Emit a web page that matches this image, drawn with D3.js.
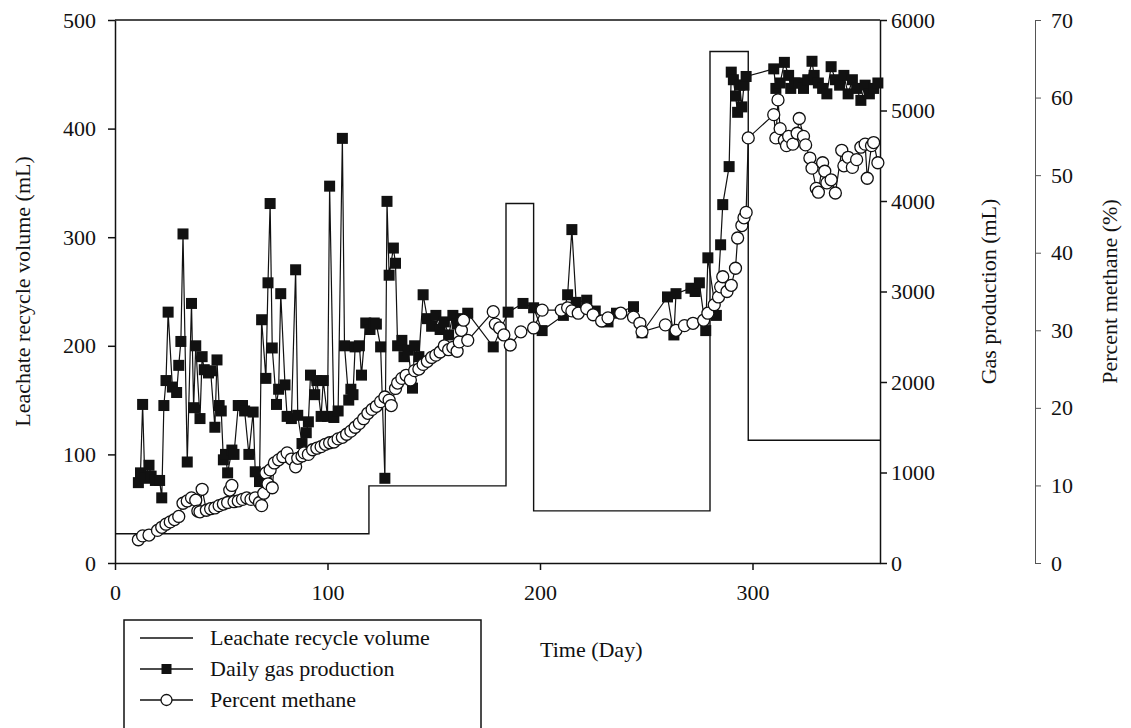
<!DOCTYPE html>
<html>
<head>
<meta charset="utf-8">
<script src="https://cdn.jsdelivr.net/npm/d3@7"></script>
<style>
  body { margin: 0; background: #fff; }
  text { font-family: "Liberation Serif", "Times New Roman", serif; fill: #111; }
</style>
</head>
<body>
<div id="chart"></div>
<script>
// Leachate recycle volume (mL), stepped, left axis
const leachateDay = [0, 119.5, 184, 197, 280, 298, 360];
const leachateVol = [27, 71, 331, 48, 471, 113, 113];

// Daily gas production (mL), right axis
const gasDay = [11, 12, 13, 14, 16, 17, 19, 21, 22, 23, 24, 25, 27, 29, 30, 31, 32, 34, 36, 37,
  38, 40, 41, 42, 44, 45, 47, 48, 49, 50, 51, 52, 53, 55, 56, 58, 60, 61, 63, 65,
  66, 68, 69, 71, 72, 73, 74, 76, 77, 78, 80, 81, 83, 85, 86, 88, 90, 91, 92, 94,
  95, 97, 98, 100, 101, 103, 105, 107, 108, 110, 111, 112, 113, 115, 116, 118, 120, 122, 123, 125,
  127, 128, 129, 131, 132, 133, 135, 136, 138, 140, 141, 143, 145, 147, 149, 151, 153, 155, 157, 159,
  161, 163, 166, 178, 185, 192, 197, 201, 211, 213, 215, 217, 222, 226, 232, 236, 244, 248, 260, 263,
  264, 271, 273, 275, 278, 279, 283, 285, 286, 289, 290, 291, 292, 293, 294, 295, 296, 297, 310, 311,
  313, 315, 317, 318, 320, 322, 324, 326, 328, 329, 331, 333, 335, 337, 339, 341, 343, 345, 347, 349,
  351, 353, 355, 357, 359];
const gasMl = [888, 996, 1752, 936, 1080, 960, 912, 912, 720, 1740, 2016, 2772, 1944, 1884, 2184, 2448, 3636, 1116, 2868, 1716,
  2400, 1596, 2280, 2136, 2100, 2124, 1500, 2244, 1740, 1680, 1140, 1200, 996, 1248, 1200, 1740, 1740, 1680, 1200, 1668,
  1008, 900, 2688, 2040, 3096, 3972, 2376, 1752, 1920, 2976, 1968, 1620, 1596, 3240, 1632, 1320, 1440, 1560, 2076, 1860,
  2016, 1620, 2016, 1620, 4164, 1608, 1680, 4692, 2400, 1800, 1920, 1860, 2388, 2400, 2076, 2652, 2580, 2652, 2640, 2388,
  936, 3996, 3180, 3480, 3312, 2400, 2460, 2280, 2352, 1932, 2400, 2280, 2964, 2700, 2616, 2736, 2580, 2664, 2520, 2736,
  2640, 2700, 2760, 2388, 2772, 2868, 2820, 2568, 2736, 2964, 3684, 2880, 2904, 2784, 2664, 2760, 2832, 2544, 2940, 2520,
  2976, 3036, 3000, 3096, 2568, 3372, 2736, 3516, 3960, 4380, 5424, 5340, 5160, 4980, 5280, 5040, 5280, 5376, 5460, 5244,
  5304, 5532, 5388, 5244, 5304, 5304, 5244, 5340, 5544, 5388, 5304, 5244, 5184, 5484, 5340, 5280, 5388, 5184, 5340, 5244,
  5112, 5280, 5184, 5244, 5304];

// Percent methane (%), far right axis
const methDay = [11, 13, 16, 20, 22, 24, 26, 28, 30, 32, 34, 36, 38, 39, 40, 41, 43, 45, 47, 49,
  51, 53, 54, 55, 56, 58, 60, 62, 64, 66, 68, 69, 70, 71, 72, 73, 74, 75, 77, 79,
  81, 83, 85, 86, 88, 89, 91, 93, 95, 97, 99, 101, 103, 105, 107, 109, 111, 113, 115, 117,
  119, 121, 123, 125, 127, 129, 130, 132, 133, 135, 137, 139, 141, 143, 145, 147, 149, 151, 153, 155,
  157, 159, 161, 162, 163, 164, 166, 178, 179, 181, 183, 186, 191, 197, 201, 210, 213, 215, 218, 222,
  225, 229, 232, 238, 244, 247, 248, 259, 264, 268, 272, 277, 279, 282, 284, 285, 286, 288, 290, 292,
  293, 295, 296, 297, 298, 310, 311, 312, 313, 315, 316, 317, 319, 321, 322, 324, 325, 327, 328, 330,
  331, 333, 334, 335, 337, 339, 342, 343, 345, 347, 349, 351, 353, 354, 356, 357, 359];
const methPct = [3.0, 3.5, 3.6, 4.2, 4.6, 5.0, 5.3, 5.6, 6.0, 7.7, 8.0, 8.4, 8.1, 6.7, 6.6, 9.5, 6.8, 7.0, 7.1, 7.4,
  7.6, 7.8, 9.4, 10.0, 7.9, 8.0, 8.2, 8.4, 8.2, 8.4, 7.8, 7.4, 9.0, 11.6, 10.2, 12.0, 9.7, 12.9, 13.3, 13.7,
  14.2, 13.4, 12.4, 13.5, 13.8, 14.2, 14.0, 14.6, 14.8, 15.0, 15.3, 15.5, 15.6, 16.0, 16.2, 16.6, 17.0, 17.5, 18.0, 18.6,
  19.3, 19.8, 20.2, 20.8, 21.4, 21.0, 20.3, 22.5, 23.2, 23.8, 24.2, 23.6, 24.8, 25.0, 25.6, 26.0, 26.5, 26.8, 27.2, 28.0,
  27.5, 27.8, 27.3, 28.5, 30.0, 31.3, 28.7, 32.4, 30.8, 30.3, 29.4, 28.1, 29.8, 30.3, 32.6, 32.6, 32.9, 32.5, 32.2, 32.8,
  32.0, 31.2, 31.6, 32.2, 31.7, 30.9, 29.8, 30.7, 30.0, 30.6, 30.9, 31.3, 32.2, 33.3, 34.3, 35.6, 36.9, 35.0, 35.8, 38.0,
  41.9, 43.5, 44.5, 45.2, 54.8, 57.8, 54.8, 59.7, 56.0, 54.5, 53.8, 55.0, 54.0, 55.4, 57.3, 55.0, 53.9, 52.2, 50.9, 48.3,
  47.8, 51.6, 50.5, 49.0, 49.4, 47.7, 53.2, 51.2, 52.3, 51.0, 52.0, 53.6, 54.0, 49.6, 53.8, 54.2, 51.6];

const xTicks = [0, 100, 200, 300];
const leftTicks = [0, 100, 200, 300, 400, 500];
const gasTicks = [0, 1000, 2000, 3000, 4000, 5000, 6000];
const methTicks = [0, 10, 20, 30, 40, 50, 60, 70];

const legendItems = ["Leachate recycle volume", "Daily gas production", "Percent methane"];

const width = 1131, height = 728;
const margin = { left: 115, right: 880, top: 20, bottom: 563 };
const fontSize = 22;

const svg = d3.select("#chart").append("svg")
  .attr("width", width)
  .attr("height", height);

const x = d3.scaleLinear().domain([0, 360]).range([margin.left, margin.right]);
const yLeft = d3.scaleLinear().domain([0, 500]).range([margin.bottom, margin.top]);
const yGas = d3.scaleLinear().domain([0, 6000]).range([margin.bottom, margin.top]);
const yMeth = d3.scaleLinear().domain([0, 70]).range([margin.bottom, margin.top]);

// frame top line
svg.append("line")
  .attr("x1", margin.left).attr("x2", margin.right)
  .attr("y1", margin.top).attr("y2", margin.top)
  .attr("stroke", "#111").attr("stroke-width", 1.5);

function styleAxis(g) {
  g.selectAll("path, line").attr("stroke", "#111").attr("stroke-width", 1.5);
  g.selectAll("text").style("font-size", fontSize + "px")
    .style("font-family", "'Liberation Serif', serif").attr("fill", "#111");
}

const fmt = d3.format("d");

svg.append("g")
  .attr("transform", `translate(0,${margin.bottom})`)
  .call(d3.axisBottom(x).tickValues(xTicks).tickFormat(fmt).tickSize(7).tickSizeOuter(0).tickPadding(14))
  .call(styleAxis);

svg.append("g")
  .attr("transform", `translate(${margin.left},0)`)
  .call(d3.axisLeft(yLeft).tickValues(leftTicks).tickFormat(fmt).tickSize(7).tickSizeOuter(0).tickPadding(12))
  .call(styleAxis);

svg.append("g")
  .attr("transform", `translate(${margin.right},0)`)
  .call(d3.axisRight(yGas).tickValues(gasTicks).tickFormat(fmt).tickSize(7).tickSizeOuter(0).tickPadding(4))
  .call(styleAxis);

const methAxis = svg.append("g")
  .attr("transform", `translate(1035,0)`)
  .call(d3.axisRight(yMeth).tickValues(methTicks).tickFormat(fmt).tickSize(6).tickSizeOuter(0).tickPadding(10))
  .call(styleAxis);
methAxis.selectAll("path, line").attr("stroke", "#555").attr("stroke-width", 1);

// axis titles
svg.append("text")
  .attr("transform", `translate(30,${(margin.top + margin.bottom) / 2}) rotate(-90)`)
  .attr("text-anchor", "middle")
  .style("font-size", fontSize + "px")
  .text("Leachate recycle volume (mL)");

svg.append("text")
  .attr("transform", `translate(996,${(margin.top + margin.bottom) / 2}) rotate(-90)`)
  .attr("text-anchor", "middle")
  .style("font-size", fontSize + "px")
  .text("Gas production (mL)");

svg.append("text")
  .attr("transform", `translate(1117,${(margin.top + margin.bottom) / 2}) rotate(-90)`)
  .attr("text-anchor", "middle")
  .style("font-size", fontSize + "px")
  .text("Percent methane (%)");

svg.append("text")
  .attr("x", 540).attr("y", 657)
  .style("font-size", fontSize + "px")
  .text("Time (Day)");

// leachate step line
const leachate = leachateDay.map((d, i) => ({ day: d, v: leachateVol[i] }));
svg.append("path")
  .datum(leachate)
  .attr("fill", "none")
  .attr("stroke", "#111")
  .attr("stroke-width", 1.4)
  .attr("d", d3.line().x(d => x(d.day)).y(d => yLeft(d.v)).curve(d3.curveStepAfter));

// gas production
const gas = gasDay.map((d, i) => ({ day: d, v: gasMl[i] }));
svg.append("path")
  .datum(gas)
  .attr("fill", "none")
  .attr("stroke", "#111")
  .attr("stroke-width", 1.2)
  .attr("d", d3.line().x(d => x(d.day)).y(d => yGas(d.v)));

const sq = 11;
svg.append("g").selectAll("rect")
  .data(gas)
  .enter()
  .append("rect")
  .attr("x", d => x(d.day) - sq / 2)
  .attr("y", d => yGas(d.v) - sq / 2)
  .attr("width", sq)
  .attr("height", sq)
  .attr("fill", "#111");

// percent methane
const meth = methDay.map((d, i) => ({ day: d, v: methPct[i] }));
svg.append("path")
  .datum(meth)
  .attr("fill", "none")
  .attr("stroke", "#111")
  .attr("stroke-width", 1.2)
  .attr("d", d3.line().x(d => x(d.day)).y(d => yMeth(d.v)));

svg.append("g").selectAll("circle")
  .data(meth)
  .enter()
  .append("circle")
  .attr("cx", d => x(d.day))
  .attr("cy", d => yMeth(d.v))
  .attr("r", 6)
  .attr("fill", "#fff")
  .attr("stroke", "#111")
  .attr("stroke-width", 1.3);

// legend
const legend = svg.append("g").attr("transform", "translate(124,620)");
legend.append("rect")
  .attr("x", 0).attr("y", 0)
  .attr("width", 357).attr("height", 130)
  .attr("fill", "#fff")
  .attr("stroke", "#111")
  .attr("stroke-width", 1.5);

legendItems.forEach((name, i) => {
  const row = legend.append("g").attr("transform", `translate(0,${18 + i * 31})`);
  row.append("line")
    .attr("x1", 16).attr("x2", 69)
    .attr("stroke", "#111").attr("stroke-width", 1.4);
  if (i === 1) {
    row.append("rect").attr("x", 42.5 - 5).attr("y", -5).attr("width", 10).attr("height", 10).attr("fill", "#111");
  }
  if (i === 2) {
    row.append("circle").attr("cx", 42.5).attr("r", 5.5).attr("fill", "#fff").attr("stroke", "#111").attr("stroke-width", 1.3);
  }
  row.append("text")
    .attr("x", 86).attr("y", 7)
    .style("font-size", fontSize + "px")
    .text(name);
});
</script>
</body>
</html>
